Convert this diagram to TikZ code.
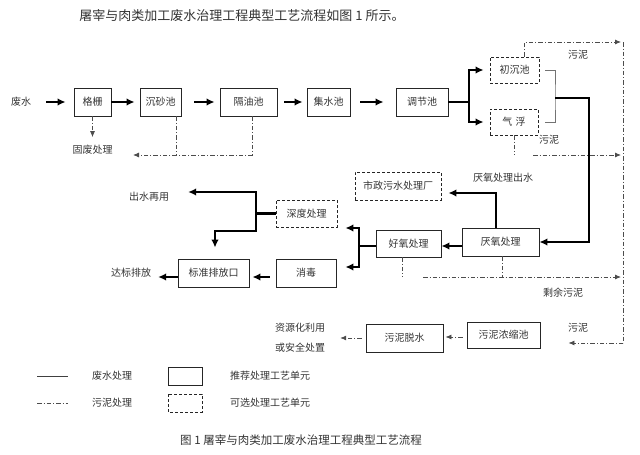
\documentclass[tikz,border=0pt]{standalone}
\usepackage{fontspec}
\setmainfont{Noto Sans CJK SC}
\usetikzlibrary{arrows.meta}

\tikzset{
  unit/.style={draw=black!85, line width=0.9pt, minimum height=28pt, inner sep=0pt, font=\fontsize{10}{12}\selectfont, text=black!80},
  optunit/.style={unit, dash pattern=on 3pt off 2pt},
  lbl/.style={font=\fontsize{10}{12}\selectfont, text=black!80, inner sep=1pt},
  pipe/.style={line width=2.6pt, black},
  flow/.style={pipe, -{Latex[length=8pt,width=7.5pt]}},
  biflow/.style={pipe, {Latex[length=8pt,width=7.5pt]}-{Latex[length=8pt,width=7.5pt]}},
  bracket/.style={line width=0.9pt, black!55},
  sludge/.style={line width=0.8pt, black!70, dash pattern=on 4.5pt off 2pt on 1pt off 2pt},
  sludgeflow/.style={sludge, -{Latex[length=6pt,width=5pt]}},
}

\begin{document}
\begin{tikzpicture}[x=1pt,y=-1pt]
  \useasboundingbox (0,0) rectangle (640,455);
  \node[lbl, font=\fontsize{13}{15}\selectfont] (title) at (242,16) {屠宰与肉类加工废水治理工程典型工艺流程如图 1 所示。};

  % pretreatment line
  \node[lbl] (raw) at (21,102) {废水};
  \node[unit, minimum width=37pt] (screen) at (92.5,102) {格栅};
  \node[unit, minimum width=41pt] (grit) at (160.5,102) {沉砂池};
  \node[unit, minimum width=57pt] (oilsep) at (248.5,102) {隔油池};
  \node[unit, minimum width=43pt] (collect) at (328.5,102) {集水池};
  \node[unit, minimum width=52pt] (equal) at (422,102) {调节池};
  \node[optunit, minimum width=49pt, minimum height=26pt] (primary) at (514.5,70) {初沉池};
  \node[optunit, minimum width=48pt, minimum height=26pt] (flotation) at (514,122) {气\,\,浮};
  \node[lbl] (solid) at (92.5,150) {固废处理};

  % biological treatment
  \node[unit, minimum width=77pt] (anaerobic) at (500.5,242) {厌氧处理};
  \node[unit, minimum width=65pt, minimum height=27pt] (aerobic) at (408.5,243.5) {好氧处理};
  \node[optunit, minimum width=86pt] (municipal) at (398,186) {市政污水处理厂};
  \node[lbl] (anaout) at (503,178) {厌氧处理出水};
  \node[optunit, minimum width=61pt, minimum height=27pt] (advanced) at (306.5,213.5) {深度处理};
  \node[unit, minimum width=60pt] (disinfect) at (306,273) {消毒};
  \node[unit, minimum width=71pt] (outlet) at (213.5,273) {标准排放口};
  \node[lbl] (reuse) at (149,197) {出水再用};
  \node[lbl] (discharge) at (131,273) {达标排放};

  % sludge line
  \node[unit, minimum width=73pt, minimum height=26pt] (thickener) at (503.5,335) {污泥浓缩池};
  \node[unit, minimum width=77pt] (dewater) at (404.5,338) {污泥脱水};
  \node[lbl, align=center, font=\fontsize{10}{20}\selectfont] (disposal) at (300,337.5) {资源化利用\\或安全处置};
  \node[lbl] (sl1) at (578,55) {污泥};
  \node[lbl] (sl2) at (549,140) {污泥};
  \node[lbl] (sl3) at (563,293) {剩余污泥};
  \node[lbl] (sl4) at (578,328) {污泥};

  \coordinate (split) at (469,102);
  \coordinate (merge) at (555,98);
  \coordinate (drop) at (589,98);
  \coordinate (forkaer) at (359,246);
  \coordinate (forkadv) at (256,213.5);
  \coordinate (bend) at (215,231);
  \coordinate (waste) at (133,155);
  \coordinate (sltop) at (623,42);
  \coordinate (slflot) at (623,155);
  \coordinate (slrest) at (623,277);
  \coordinate (slbot) at (623,343);

  % water
  \draw[flow, shorten <=14pt, shorten >=8pt] (raw.east) -- (screen.west);
  \draw[flow, shorten >=5pt] (screen.east) -- (grit.west);
  \draw[flow, shorten <=13pt, shorten >=5pt] (grit.east) -- (oilsep.west);
  \draw[flow, shorten <=7pt, shorten >=4pt] (oilsep.east) -- (collect.west);
  \draw[flow, shorten <=10pt, shorten >=12pt] (collect.east) -- (equal.west);
  \draw[pipe] (equal.east) -- (split);
  \draw[biflow, shorten <=6pt, shorten >=6pt] (primary.west) -| (split) |- (flotation.west);
  \draw[bracket] ([xshift=6pt]primary.east) -| (merge) |- ([xshift=7pt]flotation.east);
  \draw[flow] (merge) -- (drop) |- (anaerobic.east);
  \draw[flow] ([xshift=-4.5pt]anaerobic.north) |- ([xshift=7pt,yshift=-7pt]municipal.east);
  \draw[flow] ([yshift=-4pt]anaerobic.west) -- ([yshift=-4pt]anaerobic.west -| aerobic.east);
  \draw[pipe] (aerobic.west |- forkaer) -- (forkaer);
  \draw[biflow] ([xshift=8pt,yshift=-14.5pt]advanced.east) -| (forkaer) |- ([xshift=9pt,yshift=6pt]disinfect.east);
  \draw[pipe] (advanced.west) -- (forkadv);
  \draw[biflow] ([xshift=18pt,yshift=5pt]reuse.east) -| (forkadv) |- (bend) -- ([yshift=11pt]bend |- outlet.north);
  \draw[flow, shorten <=6pt, shorten >=3pt] ([yshift=-4pt]disinfect.west) -- ([yshift=-4pt]outlet.east);
  \draw[flow, shorten >=6pt] ([yshift=-4pt]outlet.west) -- ([yshift=-4pt]outlet.west -| discharge.east);

  % sludge
  \draw[sludgeflow, shorten >=7pt] (screen.south) -- (solid.north);
  \draw[sludge] ([xshift=15.5pt]grit.south) -- ++(0,39);
  \draw[sludgeflow] ([xshift=3.5pt]oilsep.south) |- (waste);
  \draw[sludgeflow, shorten >=2pt] ([xshift=10pt]primary.north) |- (sltop);
  \draw[sludge] (sltop) -- (slbot);
  \draw[sludge] (flotation.south) -- (flotation.south |- slflot);
  \draw[sludgeflow, shorten >=2pt] ([xshift=19pt]flotation.south |- slflot) -- (slflot);
  \draw[sludge] ([xshift=-6.5pt]aerobic.south) -- ++(0,20);
  \draw[sludge] ([xshift=1.5pt]anaerobic.south) -- ++(0,21);
  \draw[sludgeflow, shorten >=2pt] ([xshift=14.5pt]aerobic.south |- slrest) -- (slrest);
  \draw[sludgeflow, shorten >=28pt] (slbot) -- (slbot -| thickener.east);
  \draw[sludgeflow, shorten <=4pt, shorten >=2pt] ([yshift=-2pt]thickener.west) -- ([yshift=-2pt]thickener.west -| dewater.east);
  \draw[sludgeflow, shorten <=4pt, shorten >=14pt] (dewater.west) -- (dewater.west -| disposal.east);

  % legend
  \draw[line width=0.9pt, black!75] (37,376) -- (68,376);
  \node[lbl] (lgwater) at (112,376) {废水处理};
  \draw[line width=0.9pt, black!85] (168,367) rectangle (202,385);
  \node[lbl] (lgunit) at (270,376) {推荐处理工艺单元};
  \draw[sludge] (37,403) -- (68,403);
  \node[lbl] (lgsludge) at (112,403) {污泥处理};
  \draw[line width=0.9pt, black!85, dash pattern=on 3pt off 2pt] (168,394) rectangle (202,412);
  \node[lbl] (lgopt) at (270,403) {可选处理工艺单元};
  %\draw (0,0) rectangle (640,455);
  \node[lbl, font=\fontsize{11.5}{14}\selectfont] (caption) at (301,440) {图 1 屠宰与肉类加工废水治理工程典型工艺流程};
\end{tikzpicture}
\end{document}
